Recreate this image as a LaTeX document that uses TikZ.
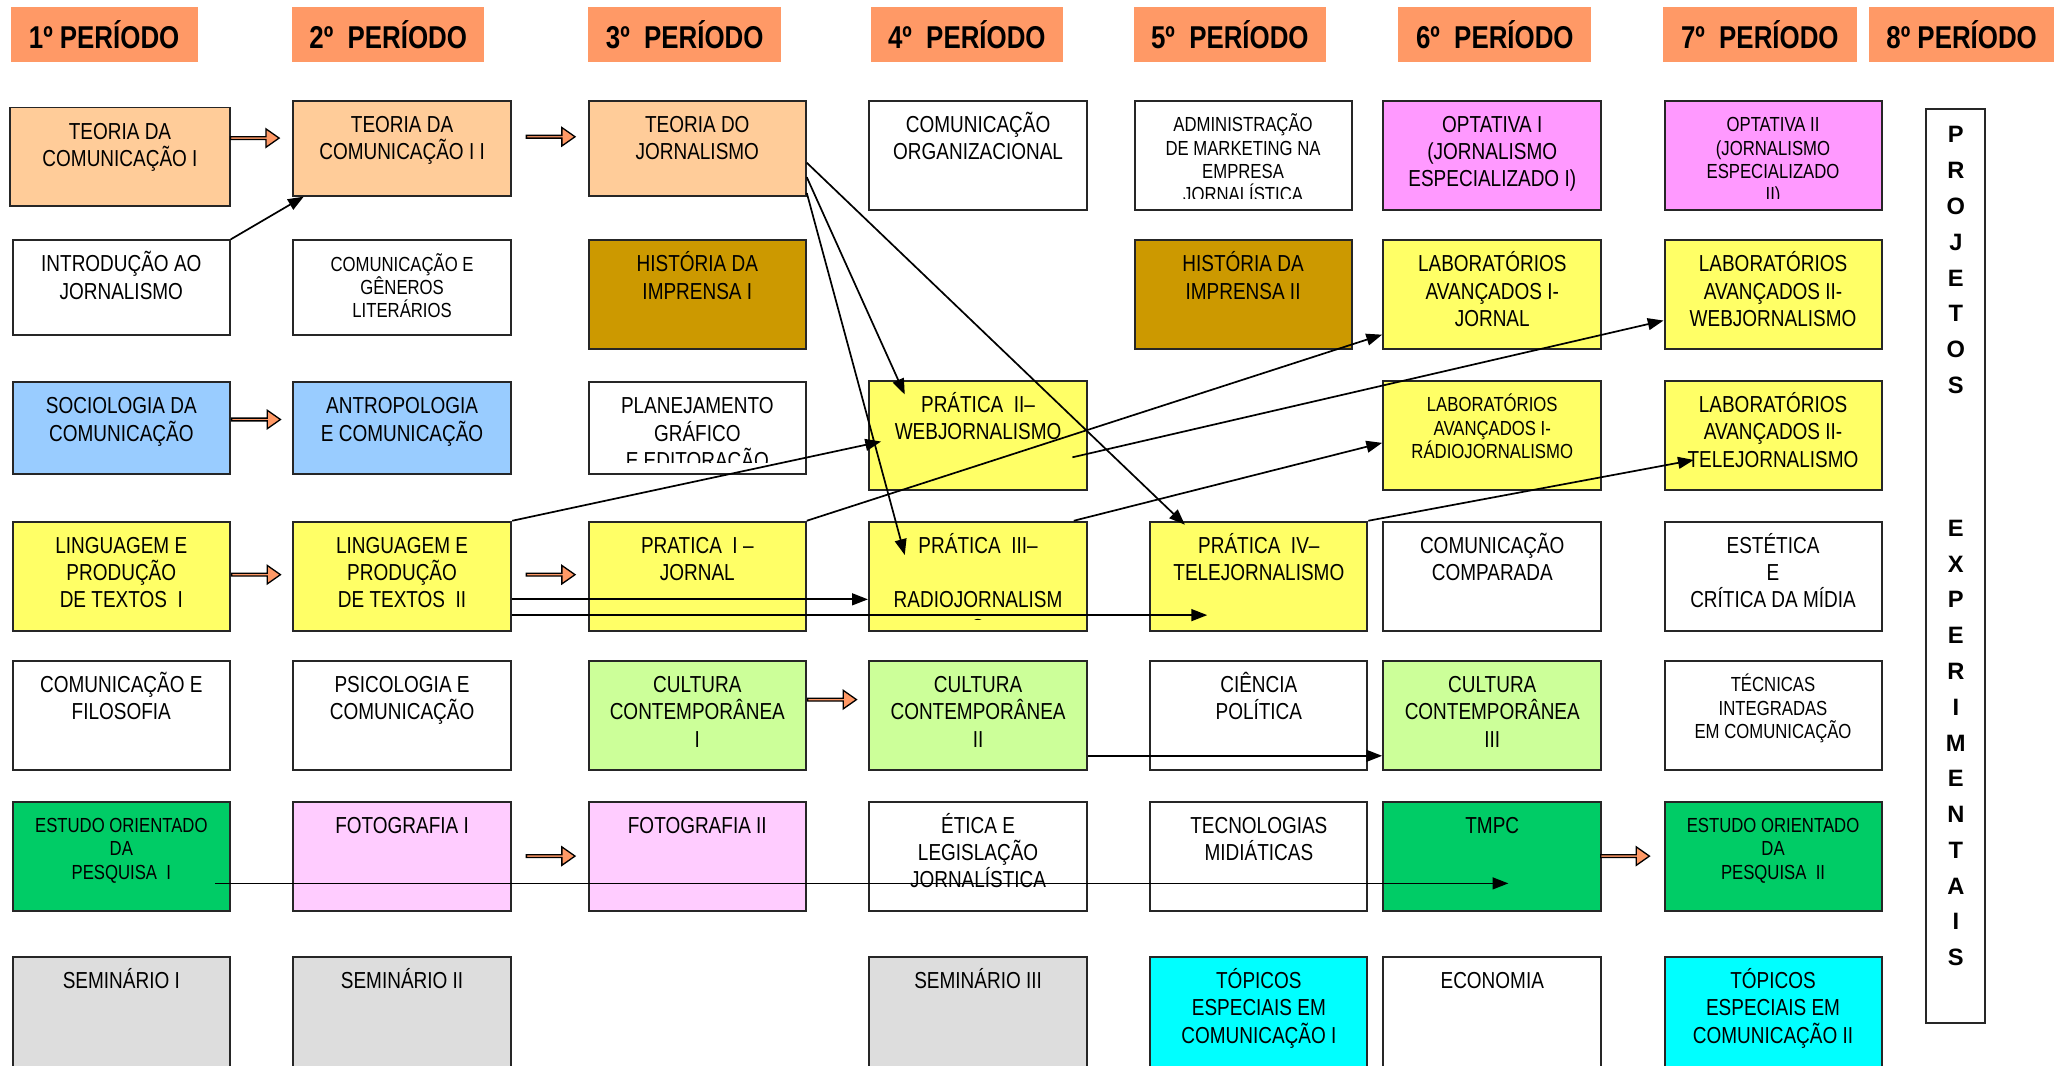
\documentclass[tikz,border=0pt]{standalone}
\usepackage{fontspec}
\setmainfont[FakeStretch=0.82]{Liberation Sans}
\newfontfamily\letrasprojeto{Liberation Sans}
\usetikzlibrary{arrows.meta,shapes.arrows}

\definecolor{laranja}{HTML}{FF9966}
\definecolor{pessego}{HTML}{FFCC99}
\definecolor{azul}{HTML}{99CCFF}
\definecolor{amarelo}{HTML}{FFFF66}
\definecolor{ouro}{HTML}{CC9900}
\definecolor{verdeclaro}{HTML}{CCFF99}
\definecolor{verde}{HTML}{00CC66}
\definecolor{rosa}{HTML}{FFCCFF}
\definecolor{lilas}{HTML}{FF99FF}
\definecolor{cinza}{HTML}{DDDDDD}
\definecolor{ciano}{HTML}{00FFFF}

\tikzset{
	periodo/.style={fill=laranja,anchor=north west,inner sep=0pt,minimum height=42pt,font=\bfseries\fontsize{24}{28}\selectfont},
	texto/.style={anchor=north,align=center,inner sep=0pt,minimum width=0pt,minimum height=0pt,font=\fontsize{17.6}{20.7}\selectfont},
	textom/.style={anchor=north,align=center,inner sep=0pt,minimum width=0pt,minimum height=0pt,font=\fontsize{15.5}{17.8}\selectfont},
	quadro/.style={draw=black!85,line width=1.5pt,anchor=north west,inner sep=0pt,minimum width=166pt,minimum height=83pt},
	caixa/.style={quadro,path picture={
		\clip ([yshift=9pt]path picture bounding box.south west) rectangle (path picture bounding box.north east);
		\node[texto] at ([yshift=-6.3pt]path picture bounding box.north) {\rule{0pt}{17pt}#1};}},
	caixam/.style={quadro,path picture={
		\clip ([yshift=9pt]path picture bounding box.south west) rectangle (path picture bounding box.north east);
		\node[textom] at ([yshift=-7.6pt]path picture bounding box.north) {\rule{0pt}{15pt}#1};}},
	bloco/.style={single arrow,draw=black,fill=laranja,line width=1pt,inner sep=0pt,minimum height=37pt,minimum width=14pt,single arrow head extend=2.8pt,single arrow tip angle=70},
	fino/.style={line width=1.3pt}
}

\begin{document}
\begin{tikzpicture}[x=1pt,y=-1pt,>={Triangle[length=12pt,width=9pt]}]
	\useasboundingbox (0,0) rectangle (1568,810);

	\node[periodo,minimum width=142pt] (p1) at (8,5) {1º PERÍODO};
	\node[periodo,minimum width=146pt] (p2) at (222,5) {2º~ PERÍODO};
	\node[periodo,minimum width=147pt] (p3) at (447,5) {3º~ PERÍODO};
	\node[periodo,minimum width=146pt] (p4) at (662,5) {4º~ PERÍODO};
	\node[periodo,minimum width=146pt] (p5) at (862,5) {5º~ PERÍODO};
	\node[periodo,minimum width=147pt] (p6) at (1063,5) {6º~ PERÍODO};
	\node[periodo,minimum width=148pt] (p7) at (1264,5) {7º~ PERÍODO};
	\node[periodo,minimum width=141pt] (p8) at (1421,5) {8º PERÍODO};

	\node[caixa={TEORIA DA\\COMUNICAÇÃO I},fill=pessego,minimum width=167pt,minimum height=75pt] (teo1) at (7,81) {};
	\node[caixa={TEORIA DA\\COMUNICAÇÃO I I},fill=pessego,minimum height=72pt] (teo2) at (222,76) {};
	\node[caixa={TEORIA DO\\JORNALISMO},fill=pessego,minimum width=165pt,minimum height=72pt] (teojor) at (447,76) {};
	\node[caixa={COMUNICAÇÃO\\ORGANIZACIONAL},fill=white] (comorg) at (660,76) {};
	\node[caixam={ADMINISTRAÇÃO\\DE MARKETING NA\\EMPRESA\\JORNALÍSTICA},fill=white,minimum width=165pt] (admkt) at (862,76) {};
	\node[caixa={OPTATIVA I\\(JORNALISMO\\ESPECIALIZADO I)},fill=lilas] (opt1) at (1051,76) {};
	\node[caixam={OPTATIVA II\\(JORNALISMO\\ESPECIALIZADO\\II)},fill=lilas,minimum width=165pt] (opt2) at (1265,76) {};

	\node[caixa={INTRODUÇÃO AO\\JORNALISMO},fill=white,minimum width=165pt,minimum height=72pt] (intro) at (9,182) {};
	\node[caixam={COMUNICAÇÃO E\\GÊNEROS\\LITERÁRIOS},fill=white,minimum height=72pt] (generos) at (222,182) {};
	\node[caixa={HISTÓRIA DA\\IMPRENSA I},fill=ouro,minimum width=165pt] (hist1) at (447,182) {};
	\node[caixa={HISTÓRIA DA\\IMPRENSA II},fill=ouro,minimum width=165pt] (hist2) at (862,182) {};
	\node[caixa={LABORATÓRIOS\\AVANÇADOS I-\\JORNAL},fill=amarelo] (labjor) at (1051,182) {};
	\node[caixa={LABORATÓRIOS\\AVANÇADOS II-\\WEBJORNALISMO},fill=amarelo,minimum width=165pt] (labweb) at (1265,182) {};

	\node[caixa={SOCIOLOGIA DA\\COMUNICAÇÃO},fill=azul,minimum width=165pt,minimum height=70pt] (soc) at (9,290) {};
	\node[caixa={ANTROPOLOGIA\\E COMUNICAÇÃO},fill=azul,minimum height=70pt] (antro) at (222,290) {};
	\node[caixa={PLANEJAMENTO\\GRÁFICO\\E EDITORAÇÃO},fill=white,minimum width=165pt,minimum height=70pt] (plan) at (447,290) {};
	\node[caixa={PRÁTICA~~II–\\WEBJORNALISMO},fill=amarelo] (prat2) at (660,289) {};
	\node[caixam={LABORATÓRIOS\\AVANÇADOS I-\\RÁDIOJORNALISMO},fill=amarelo] (labradio) at (1051,289) {};
	\node[caixa={LABORATÓRIOS\\AVANÇADOS II-\\TELEJORNALISMO},fill=amarelo,minimum width=165pt] (labtele) at (1265,289) {};

	\node[caixa={LINGUAGEM E\\PRODUÇÃO\\DE TEXTOS~~I},fill=amarelo,minimum width=165pt] (ling1) at (9,396) {};
	\node[caixa={LINGUAGEM E\\PRODUÇÃO\\DE TEXTOS~~II},fill=amarelo] (ling2) at (222,396) {};
	\node[caixa={PRATICA~~I –\\JORNAL},fill=amarelo,minimum width=165pt] (prat1) at (447,396) {};
	\node[caixa={PRÁTICA~~III–\\\mbox{}\\RADIOJORNALISM\\O},fill=amarelo] (prat3) at (660,396) {};
	\node[caixa={PRÁTICA~~IV–\\TELEJORNALISMO},fill=amarelo,minimum width=165pt] (prat4) at (874,396) {};
	\node[caixa={COMUNICAÇÃO\\COMPARADA},fill=white] (compar) at (1051,396) {};
	\node[caixa={ESTÉTICA\\E\\CRÍTICA DA MÍDIA},fill=white,minimum width=165pt] (estetica) at (1265,396) {};

	\node[caixa={COMUNICAÇÃO E\\FILOSOFIA},fill=white,minimum width=165pt] (filos) at (9,502) {};
	\node[caixa={PSICOLOGIA E\\COMUNICAÇÃO},fill=white] (psico) at (222,502) {};
	\node[caixa={CULTURA\\CONTEMPORÂNEA\\I},fill=verdeclaro,minimum width=165pt] (cult1) at (447,502) {};
	\node[caixa={CULTURA\\CONTEMPORÂNEA\\II},fill=verdeclaro] (cult2) at (660,502) {};
	\node[caixa={CIÊNCIA\\POLÍTICA},fill=white,minimum width=165pt] (ciencia) at (874,502) {};
	\node[caixa={CULTURA\\CONTEMPORÂNEA\\III},fill=verdeclaro] (cult3) at (1051,502) {};
	\node[caixam={TÉCNICAS\\INTEGRADAS\\EM COMUNICAÇÃO},fill=white,minimum width=165pt] (tecnicas) at (1265,502) {};

	\node[caixam={ESTUDO ORIENTADO\\DA\\PESQUISA~~I},fill=verde,minimum width=165pt] (eop1) at (9,609) {};
	\node[caixa={FOTOGRAFIA I},fill=rosa] (foto1) at (222,609) {};
	\node[caixa={FOTOGRAFIA II},fill=rosa,minimum width=165pt] (foto2) at (447,609) {};
	\node[caixa={ÉTICA E\\LEGISLAÇÃO\\JORNALÍSTICA},fill=white] (etica) at (660,609) {};
	\node[caixa={TECNOLOGIAS\\MIDIÁTICAS},fill=white,minimum width=165pt] (tecmid) at (874,609) {};
	\node[caixa={TMPC},fill=verde] (tmpc) at (1051,609) {};
	\node[caixam={ESTUDO ORIENTADO\\DA\\PESQUISA~~II},fill=verde,minimum width=165pt] (eop2) at (1265,609) {};

	\node[caixa={SEMINÁRIO I},fill=cinza,minimum width=165pt,minimum height=95pt] (sem1) at (9,727) {};
	\node[caixa={SEMINÁRIO II},fill=cinza,minimum height=95pt] (sem2) at (222,727) {};
	\node[caixa={SEMINÁRIO III},fill=cinza,minimum height=95pt] (sem3) at (660,727) {};
	\node[caixa={TÓPICOS\\ESPECIAIS EM\\COMUNICAÇÃO I},fill=ciano,minimum width=165pt,minimum height=95pt] (top1) at (874,727) {};
	\node[caixa={ECONOMIA},fill=white,minimum height=95pt] (econ) at (1051,727) {};
	\node[caixa={TÓPICOS\\ESPECIAIS EM\\COMUNICAÇÃO II},fill=ciano,minimum width=165pt,minimum height=95pt] (top2) at (1265,727) {};

	\node[quadro,fill=white,minimum width=45pt,minimum height=695pt] (projetos) at (1464,82) {};
	\node[anchor=north,align=center,inner sep=0pt,font=\letrasprojeto\bfseries\fontsize{18}{27.2}\selectfont] (projtxt) at ([yshift=-8.5pt]projetos.north)
		{\rule{0pt}{18pt}P\\R\\O\\J\\E\\T\\O\\S\\\mbox{}\\\mbox{}\\\mbox{}\\E\\X\\P\\E\\R\\I\\M\\E\\N\\T\\A\\I\\S};

	\draw[->,fino] (intro.north east) -- ([xshift=9pt]teo2.south west);
	\draw[->,fino] ([yshift=-11pt]teojor.east) -- ([xshift=27pt,yshift=-3pt]prat4.north west);
	\draw[->,fino] ([yshift=-22pt]teojor.east) -- ([xshift=28pt,yshift=-11pt]prat2.north west);
	\draw[->,fino] ([yshift=-34pt]teojor.east) -- ([xshift=28pt,yshift=-26pt]prat3.north west);
	\draw[->,fino] (ling2.north east) -- ([xshift=10pt,yshift=-4.5pt]prat2.west);
	\draw[->,fino] ([yshift=-17.5pt]ling2.east) -- ([yshift=-17.5pt]prat3.west);
	\draw[->,fino] ([yshift=-29.5pt]ling2.east) -- ([xshift=44pt,yshift=-29.5pt]prat4.west);
	\draw[->,fino] (prat1.north east) -- ([yshift=12pt]labjor.south west);
	\draw[->,fino] ([xshift=-12pt,yshift=-16.5pt]prat2.east) -- ([yshift=-19.5pt]labweb.west);
	\draw[->,fino] ([xshift=-11pt]prat3.north east) -- ([yshift=-5.5pt]labradio.west);
	\draw[->,fino] (prat4.north east) -- ([xshift=23pt,yshift=-18.5pt]labtele.west);
	\draw[->,fino] ([yshift=-30.5pt]cult2.east) -- ([yshift=-30.5pt]cult3.west);
	\draw[->,fino] ([xshift=-12pt,yshift=-20.5pt]eop1.east) -- ([xshift=96pt,yshift=-20.5pt]tmpc.west);

	\node[bloco] (s1) at (193,105) {};
	\node[bloco] (s2) at (418,104) {};
	\node[bloco] (s3) at (194,319) {};
	\node[bloco] (s4) at (194,437) {};
	\node[bloco] (s5) at (418,437) {};
	\node[bloco] (s6) at (632,532) {};
	\node[bloco] (s7) at (418,651) {};
	\node[bloco] (s8) at (1235,651) {};
\end{tikzpicture}
\end{document}
